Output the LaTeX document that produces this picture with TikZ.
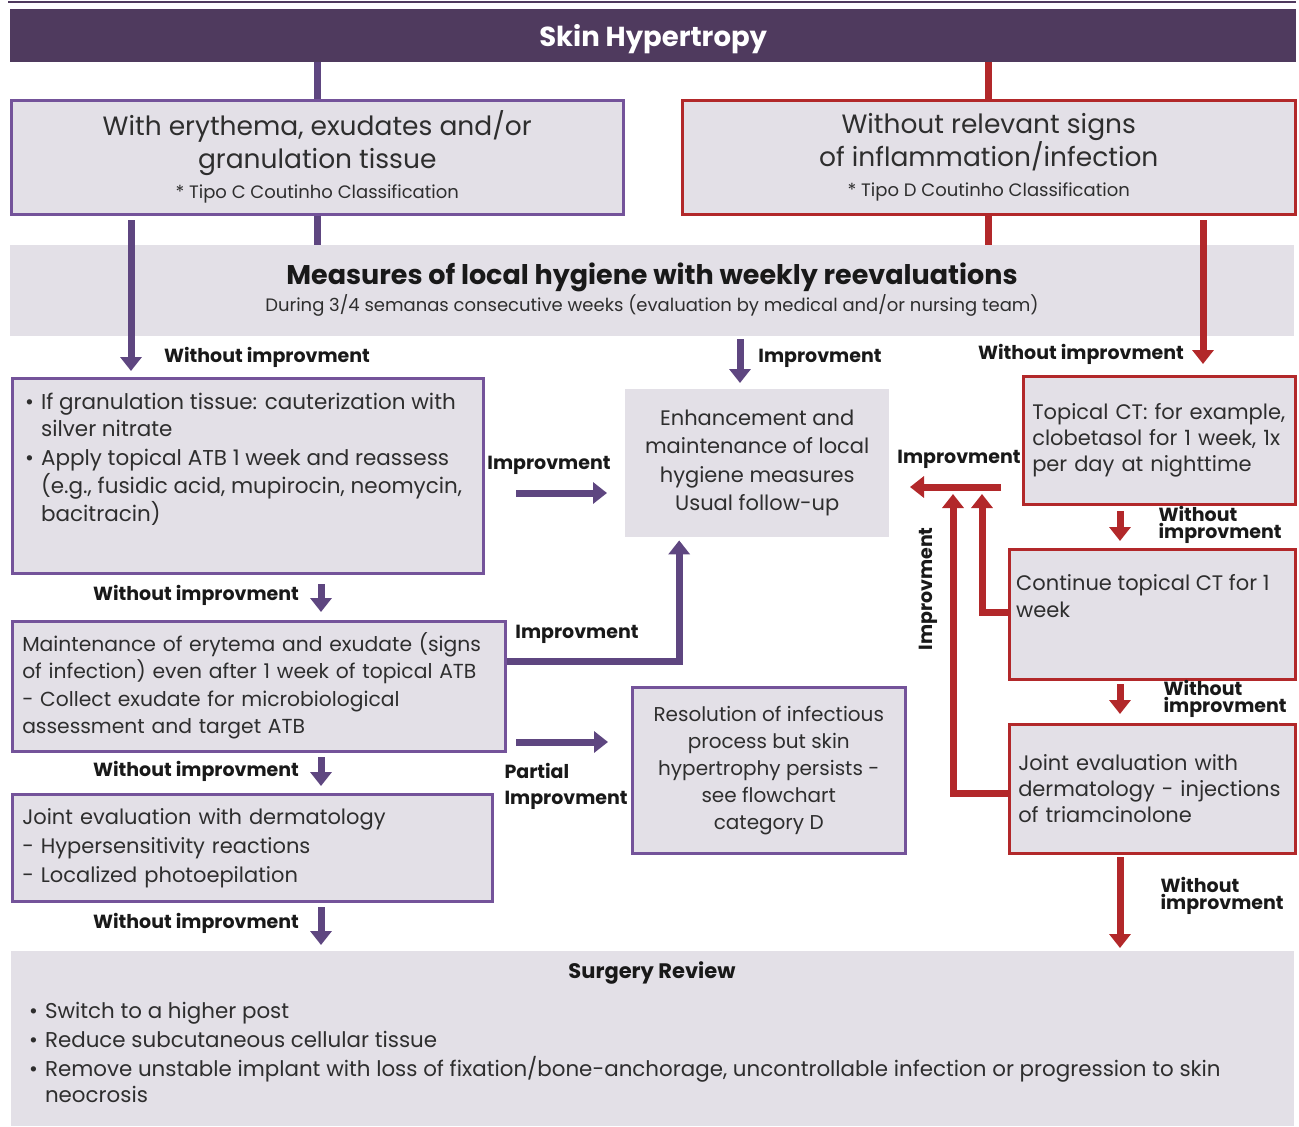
\documentclass[tikz,border=0pt]{standalone}
\usepackage{fontspec}
\setmainfont{Poppins}
\usetikzlibrary{arrows.meta,positioning,calc}

\definecolor{banner}{HTML}{4F3A5E}
\definecolor{plum}{HTML}{5E4680}
\definecolor{plumedge}{HTML}{74539A}
\definecolor{brick}{HTML}{B2282A}
\definecolor{mist}{HTML}{E3E0E7}
\definecolor{ink}{HTML}{2E2E2E}

\tikzset{
  pbox/.style={draw=plumedge, line width=2.5pt, fill=mist, anchor=north west, align=center},
  rbox/.style={draw=brick, line width=2.5pt, fill=mist, anchor=north west, align=center},
  gbox/.style={fill=mist, anchor=north west, inner sep=0pt},
  body/.style={font=\fontsize{21}{26}\selectfont, text=ink},
  big/.style={font=\fontsize{26.5}{33}\selectfont, text=ink},
  lbl/.style={font=\bfseries\fontsize{19}{17}\selectfont, text=black!90},
  parr/.style={draw=plum, line width=7pt, -{Triangle[width=21pt,length=14pt]}},
  rarr/.style={draw=brick, line width=7pt, -{Triangle[width=21pt,length=14pt]}},
  pline/.style={draw=plum, line width=7pt},
  rline/.style={draw=brick, line width=7pt},
}

\begin{document}
\begin{tikzpicture}[x=1pt,y=-1pt]
\useasboundingbox (0,0) rectangle (1299,1127);

% title banner
\draw[banner, line width=2pt] (8,2) -- (1296,2);
\node[fill=banner, minimum width=1286pt, minimum height=53pt, anchor=north west, text depth=0pt,
      text=white, font=\bfseries\fontsize{27.5}{27.5}\selectfont] (top) at (10,9) {Skin Hypertropy};

% the two categories
\node[pbox, big, minimum width=612pt, minimum height=114pt] (catc) at (10,99)
  {With erythema, exudates and/or\\granulation tissue\\[-3pt]
   {\fontsize{18}{20}\selectfont * Tipo C Coutinho Classification}};
\node[rbox, big, minimum width=613pt, minimum height=114pt] (catd) at (681,99)
  {Without relevant signs\\of inflammation/infection\\[-3pt]
   {\fontsize{18}{20}\selectfont * Tipo D Coutinho Classification}};

\draw[pline] (top.south -| catc.north) -- (catc.north);
\draw[rline] (top.south -| catd.north) -- (catd.north);

% hygiene band
\node[gbox, minimum width=1284pt, minimum height=91pt] (hyg) at (10,245) {};
\node[font=\bfseries\fontsize{27}{27}\selectfont, text=black!90] (hygt) at (652,277)
  {Measures of local hygiene with weekly reevaluations};
\node[font=\fontsize{18}{18}\selectfont, text=ink] (hygs) at (652,305)
  {During 3/4 semanas consecutive weeks (evaluation by medical and/or nursing team)};

\draw[pline] (catc.south) -- (catc.south |- hyg.north);
\draw[rline] (catd.south) -- (catd.south |- hyg.north);

% centre result
\node[gbox, body, align=center, minimum width=264pt, minimum height=148pt,
      font=\fontsize{21}{28.5}\selectfont] (keep) at (625,389)
  {Enhancement and\\maintenance of local\\hygiene measures\\Usual follow-up};

% left column
\node[pbox, minimum width=471pt, minimum height=195pt] (topic) at (11,377) {};
\node[body, anchor=north west, inner sep=0pt, font=\fontsize{21.5}{27}\selectfont] (topict) at (25,390)
  {\begin{tabular}{@{}l@{\hspace{7pt}}l@{}}
   \textbullet & If granulation tissue: cauterization with\\
               & silver nitrate\\[2pt]
   \textbullet & Apply topical ATB 1 week and reassess\\
               & (e.g., fusidic acid, mupirocin, neomycin,\\
               & bacitracin)
   \end{tabular}};

\node[pbox, body, align=left, text width=473pt, inner xsep=10pt, minimum height=130pt,
      font=\fontsize{20.3}{27}\selectfont] (infect) at (11,620)
  {Maintenance of erytema and exudate (signs\\of infection) even after 1 week of topical ATB\\[1pt]
   - Collect exudate for microbiological\\assessment and target ATB};

\node[pbox, body, align=left, text width=460pt, inner xsep=10pt, minimum height=107pt,
      font=\fontsize{21}{29}\selectfont] (derm) at (11,793)
  {Joint evaluation with dermatology\\- Hypersensitivity reactions\\- Localized photoepilation};

\node[pbox, body, minimum width=273pt, minimum height=166pt, font=\fontsize{20}{27}\selectfont] (resol) at (631,686)
  {Resolution of infectious\\process but skin\\hypertrophy persists -\\see flowchart\\category D};

% right column
\node[rbox, body, align=left, text width=254pt, inner xsep=9pt, minimum height=128pt] (ct) at (1022,375)
  {Topical CT: for example,\\clobetasol for 1 week, 1x\\per day at nighttime};
\node[rbox, minimum width=286pt, minimum height=130pt] (ctmore) at (1008,548) {};
\node[body, anchor=north west, inner sep=0pt, align=left, font=\fontsize{21}{27}\selectfont] (ctmoret) at (1016,574)
  {Continue topical CT for 1\\week};
\node[rbox, body, align=left, text width=268pt, inner xsep=9pt, minimum height=129pt] (triam) at (1008,723)
  {Joint evaluation with\\dermatology - injections\\of triamcinolone};

% surgery band
\node[gbox, minimum width=1283pt, minimum height=175pt] (surg) at (11,951) {};
\node[font=\bfseries\fontsize{21}{21}\selectfont, text=black!90] (surgt) at (652,973) {Surgery Review};
\node[body, anchor=north west, inner sep=0pt, font=\fontsize{21.4}{29}\selectfont] (surgl) at (29,998)
  {\begin{tabular}{@{}l@{\hspace{7pt}}l@{}}
   \textbullet & Switch to a higher post\\
   \textbullet & Reduce subcutaneous cellular tissue\\
   \textbullet & Remove unstable implant with loss of fixation/bone-anchorage, uncontrollable infection or progression to skin\\[-3pt]
               & neocrosis
   \end{tabular}};

% free arrow ends
\coordinate (a1s) at (131,220);  \coordinate (a1e) at (131,371);
\coordinate (a2s) at (1203,220); \coordinate (a2e) at (1203,364);
\coordinate (a3s) at (740,339);  \coordinate (a3e) at (740,383);
\coordinate (a4s) at (516,493);  \coordinate (a4e) at (607,493);
\coordinate (a5s) at (516,742);  \coordinate (a5e) at (608,742);
\coordinate (d1s) at (321,584);  \coordinate (d1e) at (321,612);
\coordinate (d2s) at (321,757);  \coordinate (d2e) at (321,786);
\coordinate (d3s) at (321,907);  \coordinate (d3e) at (321,945);
\coordinate (r1s) at (1120,511); \coordinate (r1e) at (1120,541);
\coordinate (r2s) at (1120,684); \coordinate (r2e) at (1120,714);
\coordinate (r3s) at (1120,857); \coordinate (r3e) at (1120,948);
\coordinate (fbs) at (1001,487); \coordinate (fbe) at (910,487);
\coordinate (fb2) at (982,494);  \coordinate (fb3) at (953,494);

% purple arrows
\draw[parr] (a1s) -- (a1e);
\draw[parr] (a3s) -- (a3e);
\draw[parr] (a4s) -- (a4e);
\draw[parr] (a5s) -- (a5e);
\draw[parr] (d1s) -- (d1e);
\draw[parr] (d2s) -- (d2e);
\draw[parr] (d3s) -- (d3e);
\draw[parr] ([yshift=25pt]infect.east) -| ([xshift=-78pt,yshift=-3pt]keep.south);

% red arrows
\draw[rarr] (a2s) -- (a2e);
\draw[rarr] (r1s) -- (r1e);
\draw[rarr] (r2s) -- (r2e);
\draw[rarr] (r3s) -- (r3e);
\draw[rarr] (fbs) -- (fbe);
\draw[rarr] ([yshift=2pt]ctmore.west) -| (fb2);
\draw[rarr] ([yshift=-5pt]triam.west) -| (fb3);

% labels
\node[lbl] (w1) at (267,357) {Without improvment};
\node[lbl] (i1) at (820,358) {Improvment};
\node[lbl] (w2) at (1081,354) {Without improvment};
\node[lbl] (i2) at (549,465) {Improvment};
\node[lbl] (w3) at (196,595) {Without improvment};
\node[lbl] (i3) at (577,634) {Improvment};
\node[lbl, align=left, anchor=west, font=\bfseries\fontsize{19}{26}\selectfont] (p1) at (501,786) {Partial\\Improvment};
\node[lbl] (w4) at (196,771) {Without improvment};
\node[lbl] (w5) at (196,923) {Without improvment};
\node[lbl] (i4) at (959,459) {Improvment};
\node[lbl, rotate=90] (i5) at (928,589) {Improvment};
\node[lbl, align=left, anchor=west] (w6) at (1155,525) {Without\\improvment};
\node[lbl, align=left, anchor=west] (w7) at (1160,699) {Without\\improvment};
\node[lbl, align=left, anchor=west] (w8) at (1157,896) {Without\\improvment};
\end{tikzpicture}
\end{document}
